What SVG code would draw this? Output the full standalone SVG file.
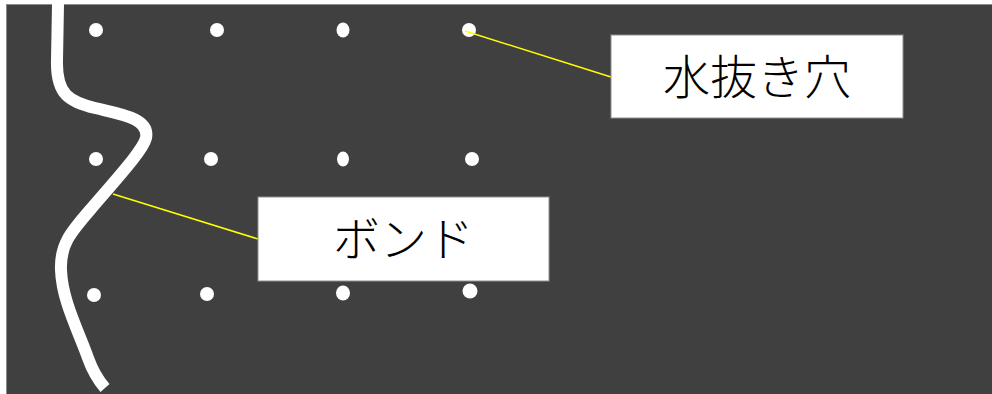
<svg xmlns="http://www.w3.org/2000/svg" width="992" height="394" viewBox="0 0 992 394">
<style>
.dot{fill:#ffffff}
.lead{stroke:#ffff00;stroke-width:1.5;fill:none}
.box{fill:#ffffff;stroke:#909090;stroke-width:1}
.lbl{font-family:"Noto Sans CJK JP","Noto Sans",sans-serif;font-weight:300;font-size:47px;fill:#000000;text-anchor:middle}
</style>
<rect width="992" height="394" fill="#ffffff"/>
<rect x="6.5" y="4.5" width="990" height="395" fill="#404040" stroke="#8a8a8a" stroke-width="1"/>
<g id="bond">
<path d="M58,4 L57,60 C56,95 70,102 95,108 C120,114 150,118 146,138 C143,150 120,175 90,210 C70,233 60,245 61,270 C62,300 78,330 88,358 C93,372 98,380 105,388" fill="none" stroke="#ffffff" stroke-width="12" stroke-linejoin="round"/>
</g>
<g id="holes">
<circle class="dot" cx="96" cy="30" r="7"/>
<circle class="dot" cx="217" cy="30" r="7"/>
<ellipse class="dot" cx="343" cy="30" rx="6.5" ry="7.5"/>
<circle class="dot" cx="469" cy="30" r="7"/>
<circle class="dot" cx="96" cy="159" r="7"/>
<circle class="dot" cx="211" cy="159" r="7"/>
<ellipse class="dot" cx="343" cy="159" rx="6" ry="7.5"/>
<circle class="dot" cx="472" cy="159" r="7"/>
<circle class="dot" cx="94" cy="295" r="7"/>
<circle class="dot" cx="207" cy="294" r="7"/>
<ellipse class="dot" cx="343" cy="293" rx="7" ry="7.5"/>
<circle class="dot" cx="470" cy="291" r="7.5"/>
</g>
<g id="connectors">
<line class="lead" x1="465" y1="31" x2="611" y2="77"/>
<line class="lead" x1="113" y1="194" x2="258" y2="239"/>
</g>
<g id="label-mizunuki">
<rect class="box" x="611" y="35" width="292" height="83"/>
<text class="lbl" x="757" y="94">水抜き穴</text>
</g>
<g id="label-bond">
<rect class="box" x="258" y="197" width="291" height="84"/>
<text class="lbl" x="403.5" y="256">ボンド</text>
</g>
</svg>
